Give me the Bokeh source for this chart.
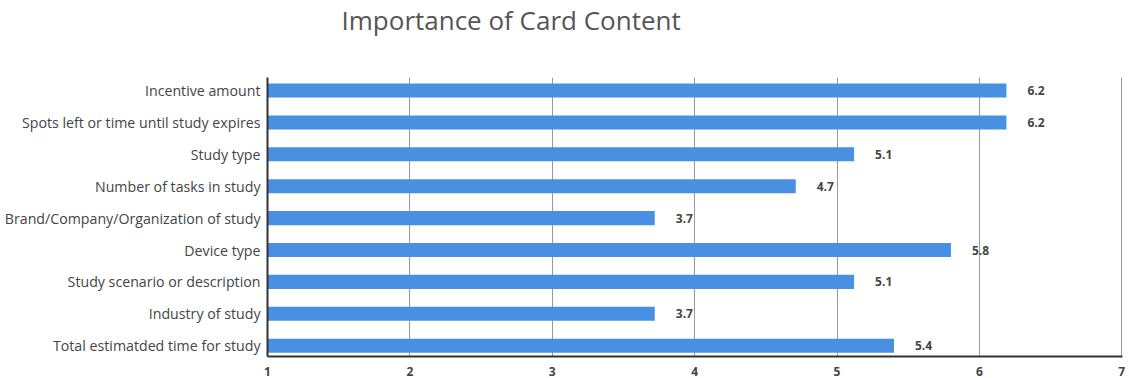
from bokeh.plotting import figure
from bokeh.models import ColumnDataSource, FixedTicker, Range1d, LabelSet, Title
from bokeh.core.properties import value
from bokeh.embed import file_html
from bokeh.resources import INLINE

title_text = "Importance of Card Content"
categories = [
    "Incentive amount",
    "Spots left or time until study expires",
    "Study type",
    "Number of tasks in study",
    "Brand/Company/Organization of study",
    "Device type",
    "Study scenario or description",
    "Industry of study",
    "Total estimatded time for study",
]
scores = [6.19, 6.19, 5.12, 4.71, 3.72, 5.80, 5.12, 3.72, 5.40]
x_ticks = [1, 2, 3, 4, 5, 6, 7]

n = len(categories)
ypos = [n - 1 - i for i in range(n)]
labels = [f"{v:.1f}" for v in scores]

src = ColumnDataSource(dict(y=ypos, right=scores, left=[1] * n, lab=labels, cat=categories))

p = figure(width=1129, height=378, output_backend="svg", toolbar_location=None,
           x_range=Range1d(1, 7.005), y_range=Range1d(-0.34, 8.41),
           min_border_left=267, min_border_right=7, min_border_top=77, min_border_bottom=21)
p.outline_line_color = None
p.background_fill_color = "white"
p.border_fill_color = "white"

p.hbar(y="y", left="left", right="right", height=0.44, source=src,
       fill_color="#4A90E2", line_color=None)

p.add_layout(LabelSet(x="right", y="y", text="lab", source=src, x_offset=21,
                      text_align="left", text_baseline="middle",
                      text_font=value("Open Sans"), text_font_size="12px",
                      text_font_style="bold", text_color="#444444"))

# x axis
p.xaxis.ticker = FixedTicker(ticks=x_ticks)
p.xaxis.axis_line_color = "#333333"
p.xaxis.axis_line_width = 2
p.xaxis.major_tick_line_color = None
p.xaxis.minor_tick_line_color = None
p.xaxis.major_label_text_font = "Open Sans"
p.xaxis.major_label_text_font_size = "12px"
p.xaxis.major_label_text_font_style = "bold"
p.xaxis.major_label_text_color = "#444444"
p.xaxis.major_label_standoff = 4

# y axis
p.yaxis.ticker = FixedTicker(ticks=ypos)
p.yaxis.major_label_overrides = {y: c for y, c in zip(ypos, categories)}
p.yaxis.axis_line_color = "#333333"
p.yaxis.axis_line_width = 2
p.yaxis.major_tick_line_color = None
p.yaxis.minor_tick_line_color = None
p.yaxis.major_label_text_font = "Open Sans"
p.yaxis.major_label_text_font_size = "14.2px"
p.yaxis.major_label_text_color = "#444444"
p.yaxis.major_label_standoff = 1

p.ygrid.grid_line_color = None
p.xgrid.ticker = FixedTicker(ticks=x_ticks[1:])
p.xgrid.grid_line_color = "#999999"
p.xgrid.grid_line_width = 1

# real title (outer panel)
p.title.text = title_text
p.title.text_font = "Open Sans"
p.title.text_font_size = "26px"
p.title.text_font_style = "normal"
p.title.text_color = "#555555"
p.title.align = "left"
p.title.offset = 74
p.title.vertical_align = "top"
p.title.standoff = 0

# blank spacer panel between title and frame
p.add_layout(Title(text=" ", text_font="Open Sans", text_font_size="26px", standoff=0), "above")

open("out.html", "w").write(file_html(p, INLINE))
